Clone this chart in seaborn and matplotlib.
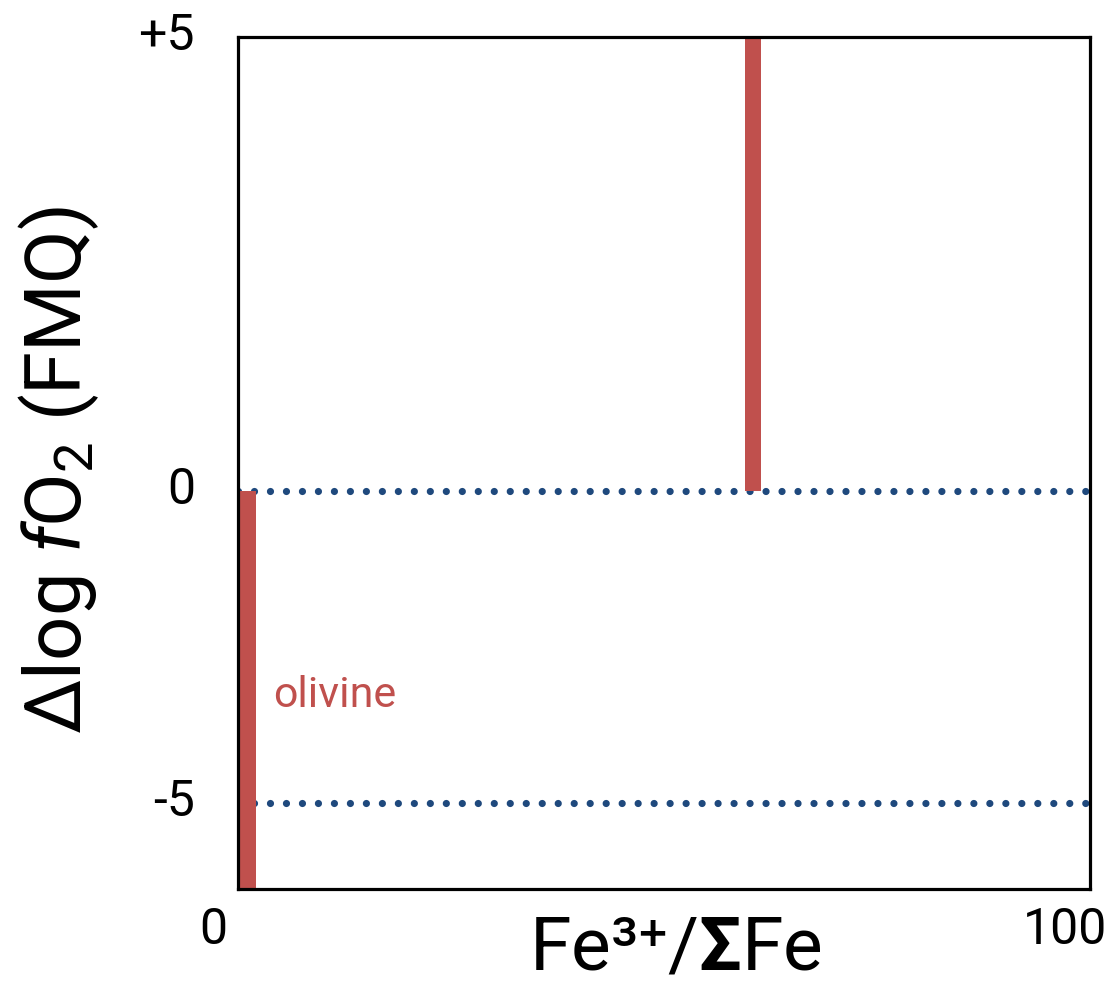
import numpy as np
import matplotlib
matplotlib.use("Agg")
import matplotlib.pyplot as plt
import matplotlib.transforms as mtransforms
import seaborn as sns

# Vertical bands: Fe3+/ΣFe position and the Δlog fO2 range each one covers
band_names = ["olivine", ""]
band_x = [1.17, 60.45]
band_low = [-6.4, 0.0]
band_high = [0.0, 5.0]

# Reference buffer levels drawn as dotted lines
ref_levels = [0, -5]

# Tick positions and labels
y_ticks = [5, 0, -5]
y_tick_labels = ["+5", "0", "-5"]
x_ticks = [0, 100]
x_tick_labels = ["0", "100"]

RED = "#c0504d"
BLUE = "#1f497d"

sns.set_theme(style="white")
plt.rcParams["font.family"] = ["Roboto", "DejaVu Sans"]
plt.rcParams["font.weight"] = "normal"
plt.rcParams["text.color"] = "black"
plt.rcParams["axes.labelcolor"] = "black"
plt.rcParams["mathtext.fontset"] = "custom"
plt.rcParams["mathtext.rm"] = "Roboto"
plt.rcParams["mathtext.it"] = "Roboto:italic"
plt.rcParams["mathtext.bf"] = "Roboto:bold"
plt.rcParams["mathtext.fallback"] = "stixsans"
plt.rcParams["lines.scale_dashes"] = False

fig = plt.figure(figsize=(11.10, 9.83), dpi=100)
ax = fig.add_axes([238 / 1110, 1 - 889 / 983, (1090 - 238) / 1110, (889 - 37) / 983])

# Compressed scale below zero so the negative half takes less height
k = 62.4 / 90.8


def fwd(y):
    y = np.asarray(y, dtype=float)
    return np.where(y >= 0, y, y * k)


def inv(y):
    y = np.asarray(y, dtype=float)
    return np.where(y >= 0, y, y / k)


ax.set_yscale("function", functions=(fwd, inv))
ax.set_xlim(0, 100)
ax.set_ylim(-6.38, 5)

# Dotted reference lines (round dots, ~7 px across, 16 px apart)
for lvl in ref_levels:
    ax.axhline(lvl, color=BLUE, lw=5.2, linestyle=(0, (0.01, 11.5)),
               dash_capstyle="round", zorder=1)

# Range bands
heights = [h - l for h, l in zip(band_high, band_low)]
ax.bar(band_x, heights, bottom=band_low, width=1.88, color=RED,
       edgecolor="none", zorder=2)

ax.text(4.1, -3.46, band_names[0], color=RED, fontsize=31, va="baseline",
        ha="left")

# Ticks
ax.set_yticks(y_ticks)
ax.set_yticklabels(y_tick_labels)
ax.set_xticks(x_ticks)
ax.set_xticklabels(x_tick_labels)
ax.tick_params(axis="both", length=0, labelsize=36, colors="black")
ax.tick_params(axis="y", pad=31)
ax.tick_params(axis="x", pad=12)
ax.yaxis.set_minor_locator(matplotlib.ticker.NullLocator())

shift_up = mtransforms.ScaledTranslation(0, 6 / 100, fig.dpi_scale_trans)
for lab in ax.get_yticklabels():
    lab.set_transform(lab.get_transform() + shift_up)
shift_left = mtransforms.ScaledTranslation(-25 / 100, 0, fig.dpi_scale_trans)
for lab in ax.get_xticklabels():
    lab.set_transform(lab.get_transform() + shift_left)

# Axis titles
fig.text(675 / 1110, 1 - 970 / 983, r"Fe³⁺/$\mathbf{\Sigma}$Fe",
         fontsize=54, ha="center", va="baseline")
fig.text(81 / 1110, 1 - 470 / 983,
         r"Δlog $\mathit{f}$O$_2$ (FMQ)",
         fontsize=56, rotation=90, rotation_mode="anchor",
         ha="center", va="baseline")

for sp in ax.spines.values():
    sp.set_visible(True)
    sp.set_color("black")
    sp.set_linewidth(2.3)
    sp.set_zorder(3)

fig.savefig("out.png", dpi=100, facecolor="white")
